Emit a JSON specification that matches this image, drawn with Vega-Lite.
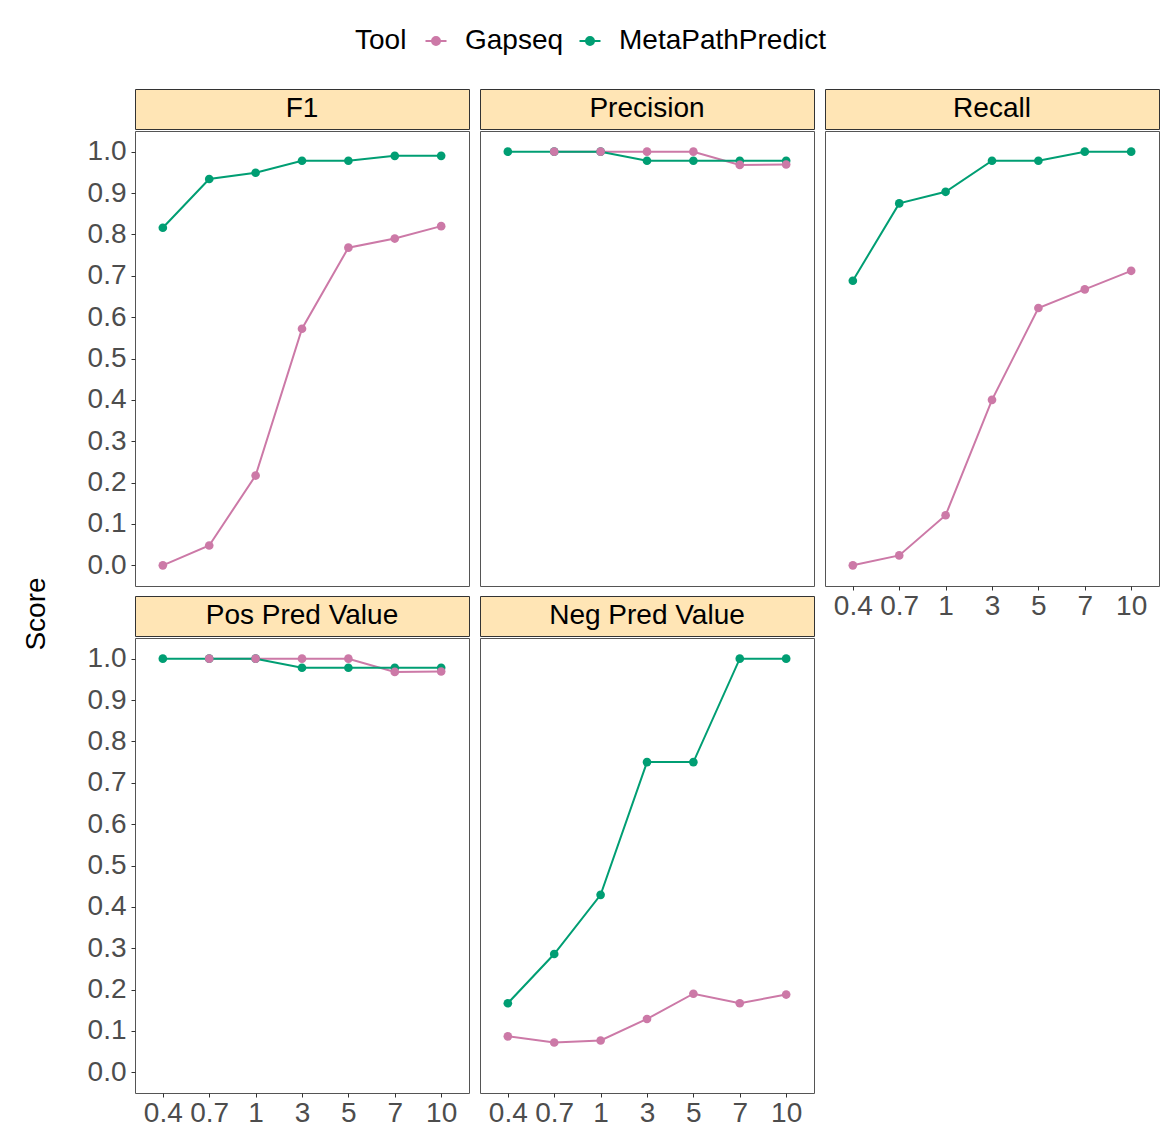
{
  "$schema": "https://vega.github.io/schema/vega-lite/v6.json",
  "padding": {"left": 22, "top": 27, "right": 5, "bottom": 5},
  "background": "white",
  "datasets": {
    "scores": [
      {"metric": "F1", "tool": "Gapseq", "threshold": 0.4, "score": 0.0},
      {"metric": "F1", "tool": "Gapseq", "threshold": 0.7, "score": 0.048},
      {"metric": "F1", "tool": "Gapseq", "threshold": 1, "score": 0.217},
      {"metric": "F1", "tool": "Gapseq", "threshold": 3, "score": 0.572},
      {"metric": "F1", "tool": "Gapseq", "threshold": 5, "score": 0.768},
      {"metric": "F1", "tool": "Gapseq", "threshold": 7, "score": 0.79},
      {"metric": "F1", "tool": "Gapseq", "threshold": 10, "score": 0.82},
      {"metric": "F1", "tool": "MetaPathPredict", "threshold": 0.4, "score": 0.816},
      {"metric": "F1", "tool": "MetaPathPredict", "threshold": 0.7, "score": 0.934},
      {"metric": "F1", "tool": "MetaPathPredict", "threshold": 1, "score": 0.949},
      {"metric": "F1", "tool": "MetaPathPredict", "threshold": 3, "score": 0.978},
      {"metric": "F1", "tool": "MetaPathPredict", "threshold": 5, "score": 0.978},
      {"metric": "F1", "tool": "MetaPathPredict", "threshold": 7, "score": 0.99},
      {"metric": "F1", "tool": "MetaPathPredict", "threshold": 10, "score": 0.99},
      {"metric": "Precision", "tool": "Gapseq", "threshold": 0.7, "score": 1.0},
      {"metric": "Precision", "tool": "Gapseq", "threshold": 1, "score": 1.0},
      {"metric": "Precision", "tool": "Gapseq", "threshold": 3, "score": 1.0},
      {"metric": "Precision", "tool": "Gapseq", "threshold": 5, "score": 1.0},
      {"metric": "Precision", "tool": "Gapseq", "threshold": 7, "score": 0.968},
      {"metric": "Precision", "tool": "Gapseq", "threshold": 10, "score": 0.969},
      {"metric": "Precision", "tool": "MetaPathPredict", "threshold": 0.4, "score": 1.0},
      {"metric": "Precision", "tool": "MetaPathPredict", "threshold": 0.7, "score": 1.0},
      {"metric": "Precision", "tool": "MetaPathPredict", "threshold": 1, "score": 1.0},
      {"metric": "Precision", "tool": "MetaPathPredict", "threshold": 3, "score": 0.978},
      {"metric": "Precision", "tool": "MetaPathPredict", "threshold": 5, "score": 0.978},
      {"metric": "Precision", "tool": "MetaPathPredict", "threshold": 7, "score": 0.978},
      {"metric": "Precision", "tool": "MetaPathPredict", "threshold": 10, "score": 0.978},
      {"metric": "Recall", "tool": "Gapseq", "threshold": 0.4, "score": 0.0},
      {"metric": "Recall", "tool": "Gapseq", "threshold": 0.7, "score": 0.024},
      {"metric": "Recall", "tool": "Gapseq", "threshold": 1, "score": 0.121},
      {"metric": "Recall", "tool": "Gapseq", "threshold": 3, "score": 0.4},
      {"metric": "Recall", "tool": "Gapseq", "threshold": 5, "score": 0.622},
      {"metric": "Recall", "tool": "Gapseq", "threshold": 7, "score": 0.667},
      {"metric": "Recall", "tool": "Gapseq", "threshold": 10, "score": 0.712},
      {"metric": "Recall", "tool": "MetaPathPredict", "threshold": 0.4, "score": 0.688},
      {"metric": "Recall", "tool": "MetaPathPredict", "threshold": 0.7, "score": 0.875},
      {"metric": "Recall", "tool": "MetaPathPredict", "threshold": 1, "score": 0.903},
      {"metric": "Recall", "tool": "MetaPathPredict", "threshold": 3, "score": 0.978},
      {"metric": "Recall", "tool": "MetaPathPredict", "threshold": 5, "score": 0.978},
      {"metric": "Recall", "tool": "MetaPathPredict", "threshold": 7, "score": 1.0},
      {"metric": "Recall", "tool": "MetaPathPredict", "threshold": 10, "score": 1.0},
      {"metric": "Pos Pred Value", "tool": "Gapseq", "threshold": 0.7, "score": 1.0},
      {"metric": "Pos Pred Value", "tool": "Gapseq", "threshold": 1, "score": 1.0},
      {"metric": "Pos Pred Value", "tool": "Gapseq", "threshold": 3, "score": 1.0},
      {"metric": "Pos Pred Value", "tool": "Gapseq", "threshold": 5, "score": 1.0},
      {"metric": "Pos Pred Value", "tool": "Gapseq", "threshold": 7, "score": 0.968},
      {"metric": "Pos Pred Value", "tool": "Gapseq", "threshold": 10, "score": 0.969},
      {"metric": "Pos Pred Value", "tool": "MetaPathPredict", "threshold": 0.4, "score": 1.0},
      {"metric": "Pos Pred Value", "tool": "MetaPathPredict", "threshold": 0.7, "score": 1.0},
      {"metric": "Pos Pred Value", "tool": "MetaPathPredict", "threshold": 1, "score": 1.0},
      {"metric": "Pos Pred Value", "tool": "MetaPathPredict", "threshold": 3, "score": 0.978},
      {"metric": "Pos Pred Value", "tool": "MetaPathPredict", "threshold": 5, "score": 0.978},
      {"metric": "Pos Pred Value", "tool": "MetaPathPredict", "threshold": 7, "score": 0.978},
      {"metric": "Pos Pred Value", "tool": "MetaPathPredict", "threshold": 10, "score": 0.978},
      {"metric": "Neg Pred Value", "tool": "Gapseq", "threshold": 0.4, "score": 0.087},
      {"metric": "Neg Pred Value", "tool": "Gapseq", "threshold": 0.7, "score": 0.072},
      {"metric": "Neg Pred Value", "tool": "Gapseq", "threshold": 1, "score": 0.077},
      {"metric": "Neg Pred Value", "tool": "Gapseq", "threshold": 3, "score": 0.129},
      {"metric": "Neg Pred Value", "tool": "Gapseq", "threshold": 5, "score": 0.19},
      {"metric": "Neg Pred Value", "tool": "Gapseq", "threshold": 7, "score": 0.167},
      {"metric": "Neg Pred Value", "tool": "Gapseq", "threshold": 10, "score": 0.188},
      {"metric": "Neg Pred Value", "tool": "MetaPathPredict", "threshold": 0.4, "score": 0.167},
      {"metric": "Neg Pred Value", "tool": "MetaPathPredict", "threshold": 0.7, "score": 0.286},
      {"metric": "Neg Pred Value", "tool": "MetaPathPredict", "threshold": 1, "score": 0.429},
      {"metric": "Neg Pred Value", "tool": "MetaPathPredict", "threshold": 3, "score": 0.75},
      {"metric": "Neg Pred Value", "tool": "MetaPathPredict", "threshold": 5, "score": 0.75},
      {"metric": "Neg Pred Value", "tool": "MetaPathPredict", "threshold": 7, "score": 1.0},
      {"metric": "Neg Pred Value", "tool": "MetaPathPredict", "threshold": 10, "score": 1.0}
    ]
  },
  "data": {"name": "scores"},
  "spacing": 9,
  "hconcat": [
    {
      "spacing": 8,
      "title": {"text": "Score", "orient": "left", "anchor": "middle", "fontSize": 28, "fontWeight": "normal", "color": "black", "font": "Liberation Sans", "offset": 36, "dx": -6},
      "vconcat": [
        {
          "spacing": 0,
          "vconcat": [
            {
              "width": 334, "height": 40,
              "view": {"fill": "#FFE5B5", "stroke": "#333333", "strokeWidth": 1},
              "transform": [{"filter": "datum.metric === 'F1'"}, {"aggregate": [{"op": "count", "as": "n"}], "groupby": ["metric"]}],
              "mark": {"type": "text", "fontSize": 28, "color": "black", "font": "Liberation Sans"},
              "encoding": {"text": {"field": "metric", "type": "nominal"}}
            },
            {
              "width": 334, "height": 455,
              "transform": [{"filter": "datum.metric === 'F1'"}],
              "encoding": {
                "x": {"field": "threshold", "type": "ordinal", "scale": {"type": "point", "padding": 0.6, "domain": [0.4, 0.7, 1, 3, 5, 7, 10]}, "axis": null},
                "y": {"field": "score", "type": "quantitative", "scale": {"domain": [-0.05, 1.05], "nice": false, "zero": false}, "axis": {"title": null, "values": [0, 0.1, 0.2, 0.3, 0.4, 0.5, 0.6, 0.7, 0.8, 0.9, 1.0], "format": ".1f", "labelPadding": 5}},
                "color": {"field": "tool", "type": "nominal", "scale": {"domain": ["Gapseq", "MetaPathPredict"], "range": ["#CC79A7", "#009E73"]}, "legend": {"title": "Tool", "orient": "none", "legendX": 220, "legendY": -62}}
              },
              "layer": [
                {"mark": {"type": "line", "strokeWidth": 2}},
                {"mark": {"type": "point", "filled": true, "size": 75, "opacity": 1}, "encoding": {"order": {"field": "tool", "sort": "descending"}}}
              ]
            }
          ]
        },
        {
          "spacing": 0,
          "vconcat": [
            {
              "width": 334, "height": 40,
              "view": {"fill": "#FFE5B5", "stroke": "#333333", "strokeWidth": 1},
              "transform": [{"filter": "datum.metric === 'Pos Pred Value'"}, {"aggregate": [{"op": "count", "as": "n"}], "groupby": ["metric"]}],
              "mark": {"type": "text", "fontSize": 28, "color": "black", "font": "Liberation Sans"},
              "encoding": {"text": {"field": "metric", "type": "nominal"}}
            },
            {
              "width": 334, "height": 455,
              "transform": [{"filter": "datum.metric === 'Pos Pred Value'"}],
              "encoding": {
                "x": {"field": "threshold", "type": "ordinal", "scale": {"type": "point", "padding": 0.6, "domain": [0.4, 0.7, 1, 3, 5, 7, 10]}, "axis": {"title": null, "labelAngle": 0, "labelPadding": 2}},
                "y": {"field": "score", "type": "quantitative", "scale": {"domain": [-0.05, 1.05], "nice": false, "zero": false}, "axis": {"title": null, "values": [0, 0.1, 0.2, 0.3, 0.4, 0.5, 0.6, 0.7, 0.8, 0.9, 1.0], "format": ".1f", "labelPadding": 5}},
                "color": {"field": "tool", "type": "nominal", "scale": {"domain": ["Gapseq", "MetaPathPredict"], "range": ["#CC79A7", "#009E73"]}, "legend": {"title": "Tool", "orient": "none", "legendX": 220, "legendY": -62}}
              },
              "layer": [
                {"mark": {"type": "line", "strokeWidth": 2}},
                {"mark": {"type": "point", "filled": true, "size": 75, "opacity": 1}, "encoding": {"order": {"field": "tool", "sort": "descending"}}}
              ]
            }
          ]
        }
      ]
    },
    {
      "spacing": 8,
      "vconcat": [
        {
          "spacing": 0,
          "vconcat": [
            {
              "width": 334, "height": 40,
              "view": {"fill": "#FFE5B5", "stroke": "#333333", "strokeWidth": 1},
              "transform": [{"filter": "datum.metric === 'Precision'"}, {"aggregate": [{"op": "count", "as": "n"}], "groupby": ["metric"]}],
              "mark": {"type": "text", "fontSize": 28, "color": "black", "font": "Liberation Sans"},
              "encoding": {"text": {"field": "metric", "type": "nominal"}}
            },
            {
              "width": 334, "height": 455,
              "transform": [{"filter": "datum.metric === 'Precision'"}],
              "encoding": {
                "x": {"field": "threshold", "type": "ordinal", "scale": {"type": "point", "padding": 0.6, "domain": [0.4, 0.7, 1, 3, 5, 7, 10]}, "axis": null},
                "y": {"field": "score", "type": "quantitative", "scale": {"domain": [-0.05, 1.05], "nice": false, "zero": false}, "axis": null},
                "color": {"field": "tool", "type": "nominal", "scale": {"domain": ["Gapseq", "MetaPathPredict"], "range": ["#CC79A7", "#009E73"]}, "legend": {"title": "Tool", "orient": "none", "legendX": 220, "legendY": -62}}
              },
              "layer": [
                {"mark": {"type": "line", "strokeWidth": 2}},
                {"mark": {"type": "point", "filled": true, "size": 75, "opacity": 1}, "encoding": {"order": {"field": "tool", "sort": "descending"}}}
              ]
            }
          ]
        },
        {
          "spacing": 0,
          "vconcat": [
            {
              "width": 334, "height": 40,
              "view": {"fill": "#FFE5B5", "stroke": "#333333", "strokeWidth": 1},
              "transform": [{"filter": "datum.metric === 'Neg Pred Value'"}, {"aggregate": [{"op": "count", "as": "n"}], "groupby": ["metric"]}],
              "mark": {"type": "text", "fontSize": 28, "color": "black", "font": "Liberation Sans"},
              "encoding": {"text": {"field": "metric", "type": "nominal"}}
            },
            {
              "width": 334, "height": 455,
              "transform": [{"filter": "datum.metric === 'Neg Pred Value'"}],
              "encoding": {
                "x": {"field": "threshold", "type": "ordinal", "scale": {"type": "point", "padding": 0.6, "domain": [0.4, 0.7, 1, 3, 5, 7, 10]}, "axis": {"title": null, "labelAngle": 0, "labelPadding": 2}},
                "y": {"field": "score", "type": "quantitative", "scale": {"domain": [-0.05, 1.05], "nice": false, "zero": false}, "axis": null},
                "color": {"field": "tool", "type": "nominal", "scale": {"domain": ["Gapseq", "MetaPathPredict"], "range": ["#CC79A7", "#009E73"]}, "legend": {"title": "Tool", "orient": "none", "legendX": 220, "legendY": -62}}
              },
              "layer": [
                {"mark": {"type": "line", "strokeWidth": 2}},
                {"mark": {"type": "point", "filled": true, "size": 75, "opacity": 1}, "encoding": {"order": {"field": "tool", "sort": "descending"}}}
              ]
            }
          ]
        }
      ]
    },
    {
      "spacing": 8,
      "vconcat": [
        {
          "spacing": 0,
          "vconcat": [
            {
              "width": 334, "height": 40,
              "view": {"fill": "#FFE5B5", "stroke": "#333333", "strokeWidth": 1},
              "transform": [{"filter": "datum.metric === 'Recall'"}, {"aggregate": [{"op": "count", "as": "n"}], "groupby": ["metric"]}],
              "mark": {"type": "text", "fontSize": 28, "color": "black", "font": "Liberation Sans"},
              "encoding": {"text": {"field": "metric", "type": "nominal"}}
            },
            {
              "width": 334, "height": 455,
              "transform": [{"filter": "datum.metric === 'Recall'"}],
              "encoding": {
                "x": {"field": "threshold", "type": "ordinal", "scale": {"type": "point", "padding": 0.6, "domain": [0.4, 0.7, 1, 3, 5, 7, 10]}, "axis": {"title": null, "labelAngle": 0, "labelPadding": 2}},
                "y": {"field": "score", "type": "quantitative", "scale": {"domain": [-0.05, 1.05], "nice": false, "zero": false}, "axis": null},
                "color": {"field": "tool", "type": "nominal", "scale": {"domain": ["Gapseq", "MetaPathPredict"], "range": ["#CC79A7", "#009E73"]}, "legend": {"title": "Tool", "orient": "none", "legendX": 220, "legendY": -62}}
              },
              "layer": [
                {"mark": {"type": "line", "strokeWidth": 2}},
                {"mark": {"type": "point", "filled": true, "size": 75, "opacity": 1}, "encoding": {"order": {"field": "tool", "sort": "descending"}}}
              ]
            }
          ]
        }
      ]
    }
  ],
  "config": {
    "font": "Liberation Sans",
    "view": {"stroke": "#555555", "strokeWidth": 1},
    "axis": {"grid": false, "domain": false, "labelFontSize": 28, "labelColor": "#4D4D4D", "labelFont": "Liberation Sans", "tickColor": "#333333", "tickSize": 4, "tickWidth": 1},
    "legend": {
      "direction": "horizontal",
      "titleOrient": "left",
      "titleFontSize": 28, "titleFontWeight": "normal", "titleColor": "black", "titleFont": "Liberation Sans", "titlePadding": 15,
      "labelFontSize": 28, "labelColor": "black", "labelFont": "Liberation Sans", "labelOffset": 15, "labelLimit": 0,
      "columnPadding": 11,
      "symbolType": "M-1,0L1,0M-0.38,0A0.38,0.38,0,1,0,0.38,0A0.38,0.38,0,1,0,-0.38,0Z",
      "symbolSize": 441,
      "symbolStrokeWidth": 2
    }
  }
}
